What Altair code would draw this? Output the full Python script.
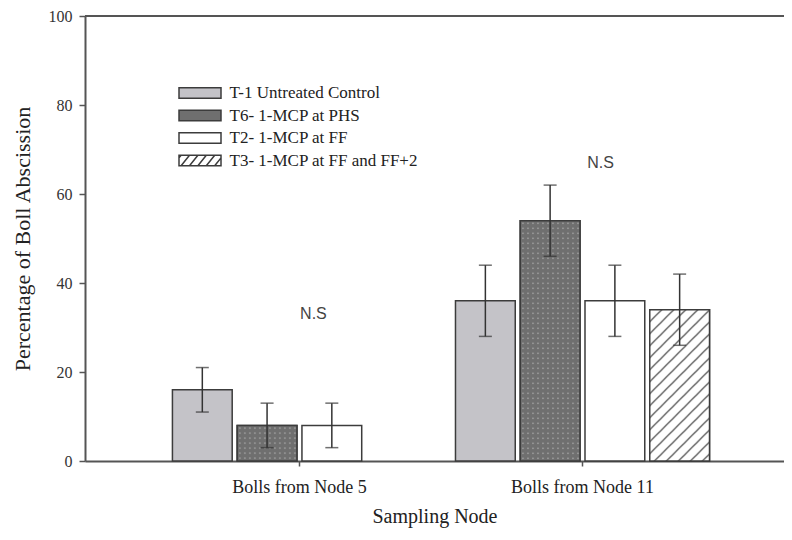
import base64
import altair as alt
import pandas as pd

# ---------------- data ----------------
nodes = ["Bolls from Node 5", "Bolls from Node 11"]
treatments = [
    "T-1 Untreated Control",
    "T6- 1-MCP at PHS",
    "T2- 1-MCP at FF",
    "T3- 1-MCP at FF and FF+2",
]
node5_mean = [16, 8, 8, None]
node5_err = [5, 5, 5, None]
node11_mean = [36, 54, 36, 34]
node11_err = [8, 8, 8, 8]

ns_nodes = ["Bolls from Node 5", "Bolls from Node 11"]
ns_y = [33, 67]
ns_text = ["N.S", "N.S"]

# ---------------- styles ----------------
fills = ["#c4c3c8", "#6f6f6f", "#ffffff", "#ffffff"]
EDGE = "#3c3c3c"
SERIF = "Liberation Serif"


def svg_uri(svg):
    return "data:image/svg+xml;base64," + base64.b64encode(svg.encode()).decode()


hatch_svg = (
    "<svg xmlns='http://www.w3.org/2000/svg'><defs>"
    "<pattern id='p' width='12' height='12' patternUnits='userSpaceOnUse'>"
    "<path d='M-3,3 L3,-3 M0,12 L12,0 M9,15 L15,9' stroke='#4a4a4a' stroke-width='1.2'/>"
    "</pattern></defs>"
    "<rect width='100%' height='100%' fill='#ffffff'/>"
    "<rect width='100%' height='100%' fill='url(#p)'/></svg>"
)
dots_svg = (
    "<svg xmlns='http://www.w3.org/2000/svg'><defs>"
    "<pattern id='d' width='5' height='5' patternUnits='userSpaceOnUse'>"
    "<rect width='5' height='5' fill='#6f6f6f'/>"
    "<rect x='2' y='2' width='1.4' height='1.4' fill='#a8a8a8'/>"
    "</pattern></defs>"
    "<rect width='100%' height='100%' fill='url(#d)'/></svg>"
)
patterns = {treatments[1]: svg_uri(dots_svg), treatments[3]: svg_uri(hatch_svg)}

rows = []
for node, means, errs in [(nodes[0], node5_mean, node5_err), (nodes[1], node11_mean, node11_err)]:
    for t, m, e in zip(treatments, means, errs):
        if m is None:
            continue
        rows.append({"node": node, "treatment": t, "mean": m, "lo": m - e, "hi": m + e,
                     "url": patterns.get(t, "")})
df = pd.DataFrame(rows)


# legend symbol paths (wide rectangles, hatch for T3)
def hatch_path():
    p = "M-2,-0.5H2V0.5H-2Z"
    x0 = -2.6
    while x0 < 2.0:
        xa, ya = x0, 0.5
        xb, yb = x0 + 0.8, -0.5
        if xa < -2:
            ya = 0.5 - (-2 - xa) / 0.8
            xa = -2
        if xb > 2:
            yb = 0.5 - (2 - x0) / 0.8
            xb = 2
        p += f" M{xa:.3f},{ya:.3f}L{xb:.3f},{yb:.3f}"
        x0 += 0.8
    return p


rect_path = "M-2,-0.5H2V0.5H-2Z"
shape_range = [rect_path, rect_path, rect_path, hatch_path()]

# ---------------- scales ----------------
xscale = alt.Scale(domain=nodes, paddingInner=0.1025, paddingOuter=0.286, align=0.54)
xoff = alt.Scale(domain=treatments, paddingInner=0.077, paddingOuter=0)
yscale = alt.Scale(domain=[0, 100], nice=False)

xaxis = alt.Axis(labelAngle=0, labelFont=SERIF, labelFontSize=18, labelColor="#222",
                 labelPadding=12, tickSize=5, tickColor="#555", tickWidth=1.5,
                 domainColor="#555", domainWidth=2, titleFont=SERIF, titleFontSize=20,
                 titleFontWeight="normal", titleColor="#222", titlePadding=10)
yaxis = alt.Axis(values=[0, 20, 40, 60, 80, 100], grid=False, tickSize=6, labelPadding=7,
                 labelFont=SERIF, labelFontSize=16, labelColor="#333", tickColor="#555",
                 tickWidth=1.5, domainColor="#555", domainWidth=2, titleFont=SERIF,
                 titleFontSize=22, titleFontWeight="normal", titleColor="#222",
                 titlePadding=14)

X = alt.X("node:N", scale=xscale, axis=xaxis, title="Sampling Node")
XO = alt.XOffset("treatment:N", scale=xoff)

LEG = alt.Legend(orient="none", legendX=103.5, legendY=65.5, title=None, labelFont=SERIF,
                 labelFontSize=17, labelColor="#222", symbolSize=441, rowPadding=2.5,
                 labelOffset=18, padding=0, labelLimit=400, symbolOpacity=1)

base = alt.Chart(df).encode(x=X, xOffset=XO)

# bar fill: data-driven domain (sorted like the treatments list)
bars = base.mark_bar(stroke=EDGE, strokeWidth=1.5).encode(
    y=alt.Y("mean:Q", scale=yscale, axis=yaxis, title="Percentage of Boll Abscission"),
    fill=alt.Fill("treatment:N", sort=treatments, scale=alt.Scale(range=fills), legend=None),
)
patterned = base.transform_filter("datum.url != ''")
imgs = patterned.mark_image(aspect=False).encode(
    y=alt.Y("mean:Q", scale=yscale), y2=alt.datum(0), url="url:N"
)
outline = patterned.mark_bar(fillOpacity=0, stroke=EDGE, strokeWidth=1.5).encode(
    y=alt.Y("mean:Q", scale=yscale)
)
err = base.mark_rule(color="#333", strokeWidth=1.5).encode(
    y=alt.Y("lo:Q", scale=yscale), y2="hi:Q"
)
cap_lo = base.mark_tick(color="#333", thickness=1.5, size=13).encode(y=alt.Y("lo:Q", scale=yscale))
cap_hi = base.mark_tick(color="#333", thickness=1.5, size=13).encode(y=alt.Y("hi:Q", scale=yscale))

legend_layer = alt.Chart(df).transform_filter("false").mark_point(
    filled=True, stroke=EDGE, strokeWidth=1.5, size=441, opacity=1
).encode(
    x=X,
    y=alt.Y("mean:Q", scale=yscale),
    color=alt.Color("treatment:N", scale=alt.Scale(domain=treatments, range=fills), legend=LEG),
    shape=alt.Shape("treatment:N", scale=alt.Scale(domain=treatments, range=shape_range),
                    legend=LEG),
)

top = alt.Chart(pd.DataFrame({"top": [100]})).mark_rule(color="#555", strokeWidth=2).encode(
    y=alt.Y("top:Q", scale=yscale)
)

ns_dx = [14, 18]
ns_layers = []
for i in range(len(ns_nodes)):
    d = pd.DataFrame({"node": [ns_nodes[i]], "y": [ns_y[i]], "t": [ns_text[i]]})
    ns_layers.append(
        alt.Chart(d).mark_text(dx=ns_dx[i], font="Liberation Sans", fontSize=16,
                               color="#444", baseline="middle").encode(
            x=X, y=alt.Y("y:Q", scale=yscale), text="t:N")
    )

chart = alt.layer(bars, imgs, outline, err, cap_lo, cap_hi, top, legend_layer, *ns_layers).properties(
    width=699, height=445,
    padding={"left": 77, "top": 8, "right": 0, "bottom": 68},
    autosize=alt.AutoSizeParams(type="none"),
    background="white",
).configure_view(stroke=None)

chart.save("out.html", embed_options={"renderer": "svg", "actions": False})
